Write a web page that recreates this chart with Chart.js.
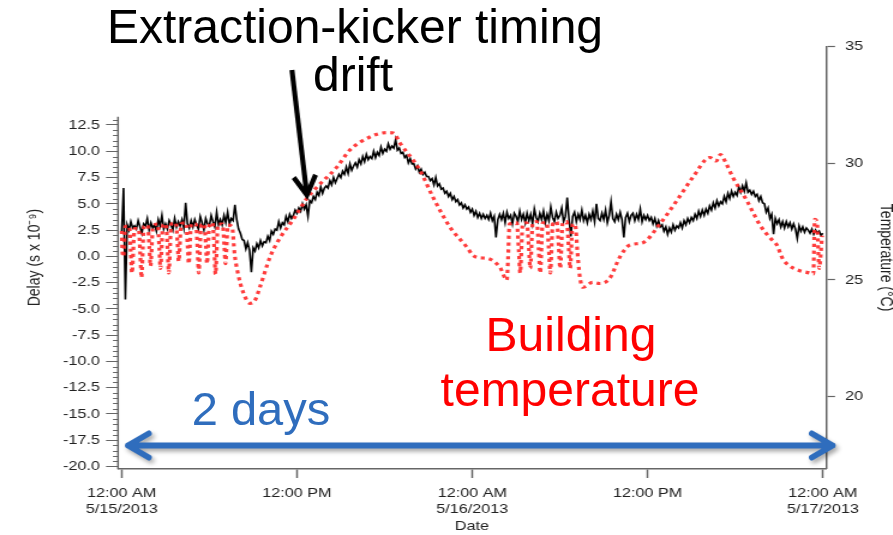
<!DOCTYPE html>
<html>
<head>
<meta charset="utf-8">
<script src="https://cdn.jsdelivr.net/npm/chart.js@4.4.1/dist/chart.umd.min.js"></script>
<style>
  html, body { margin: 0; padding: 0; background: #fff; }
  #stage { position: relative; width: 893px; height: 535px; overflow: hidden; background: #fff; }
  /* the plot is rendered narrower and widened with CSS, giving the wide tick lettering */
  #c { position: absolute; left: 0; top: 0; transform: scaleX(1.2); transform-origin: 0 0; }
  .note { position: absolute; transform: translateX(-50%); font-family: 'Liberation Sans', Arial, sans-serif;
          font-size: 48px; line-height: 48px; white-space: nowrap; }
</style>
</head>
<body>
<div id="stage">
  <canvas id="c" width="744" height="535"></canvas>
  <div class="note" style="left:355px; top:3px; color:#000;">Extraction-kicker timing</div>
  <div class="note" style="left:353px; top:51px; color:#000;">drift</div>
  <div class="note" style="left:571px; top:311px; color:#ff0000;">Building</div>
  <div class="note" style="left:570px; top:366px; color:#ff0000;">temperature</div>
  <div class="note" style="left:261px; top:385px; color:#2f6dbd; font-size:47px; line-height:47px;">2 days</div>
</div>
<script>
// ---- data -------------------------------------------------------------
// Hours since 12:00 AM 5/15/2013
const hourTicks = [0, 12, 24, 36, 48];
const hourTickLabels = [['12:00 AM', '5/15/2013'], '12:00 PM', ['12:00 AM', '5/16/2013'], '12:00 PM', ['12:00 AM', '5/17/2013']];
const delayTicks = [-20, -17.5, -15, -12.5, -10, -7.5, -5, -2.5, 0, 2.5, 5, 7.5, 10, 12.5];
const tempTicks = [20, 25, 30, 35];

// Kicker delay (ns), one sample every 7.5 minutes
const delayStartHour = 0;
const delayStepHours = 0.125;
const delayValues = [
  2.4, 6.5, -4.1, 3.0, 2.5, 3.3, 2.7, 2.9,
  2.6, 3.4, 2.8, 2.2, 3.1, 2.9, 3.6, 2.5,
  3.2, 2.7, 3.0, 2.4, 3.5, 2.9, 3.9, 2.6,
  3.1, 2.6, 3.4, 3.0, 2.5, 3.6, 2.8, 3.3,
  2.9, 3.5, 2.7, 5.1, 3.1, 2.7, 3.4, 2.8,
  3.5, 3.0, 2.6, 3.8, 3.2, 2.5, 3.6, 3.1,
  2.9, 3.9, 3.3, 2.8, 4.2, 3.0, 3.5, 3.0,
  3.9, 3.2, 4.2, 3.1, 3.6, 3.4, 4.9, 3.5,
  2.6, 2.2, 1.6, 1.5, 0.7, 1.3, 0.6, -1.5,
  0.8, 0.5, 1.2, 0.8, 1.5, 1.0, 1.4, 1.3,
  1.9, 1.5, 2.4, 2.1, 2.6, 2.5, 3.3, 2.7,
  3.2, 3.0, 3.8, 3.3, 4.0, 3.6, 3.9, 4.4,
  4.1, 4.6, 4.3, 5.0, 4.5, 4.9, 3.8, 5.3,
  5.1, 5.7, 5.4, 6.1, 5.8, 6.6, 6.0, 6.5,
  6.7, 6.5, 7.2, 6.8, 7.5, 7.0, 7.4, 7.8,
  7.5, 8.1, 7.8, 8.5, 7.9, 8.8, 8.2, 8.6,
  8.9, 8.5, 9.2, 8.8, 9.5, 9.0, 9.7, 9.2,
  9.5, 9.3, 10.0, 9.4, 9.9, 9.6, 10.4, 9.8,
  10.2, 10.0, 10.7, 10.2, 10.5, 10.3, 11.1, 10.1,
  10.3, 9.8, 9.9, 9.4, 9.6, 8.9, 9.3, 8.8,
  8.8, 8.3, 8.6, 8.0, 8.3, 7.8, 8.0, 7.6,
  7.6, 7.2, 7.4, 6.8, 7.5, 6.7, 6.9, 6.4,
  6.5, 6.0, 6.2, 5.7, 6.0, 5.4, 5.7, 5.2,
  5.4, 4.9, 5.1, 4.6, 4.9, 4.5, 4.7, 4.2,
  4.5, 3.9, 4.3, 3.7, 4.1, 3.6, 4.0, 3.6,
  3.9, 3.5, 4.1, 3.4, 3.8, 1.8, 3.5, 4.0,
  3.5, 4.1, 3.2, 4.2, 3.6, 3.9, 3.1, 4.1,
  3.8, 3.3, 4.3, 3.5, 4.0, 3.2, 4.1, 3.4,
  4.0, 3.1, 4.5, 3.7, 3.3, 4.1, 3.5, 4.3,
  3.2, 4.0, 3.4, 4.7, 3.7, 3.3, 4.2, 3.6,
  3.9, 4.6, 3.3, 3.8, 5.6, 3.5, 1.9, 3.8,
  4.2, 3.3, 4.0, 3.5, 4.4, 3.4, 3.9, 3.2,
  4.0, 3.5, 4.3, 3.3, 5.0, 3.6, 3.4, 4.1,
  3.5, 4.4, 3.2, 3.9, 5.2, 3.6, 3.3, 4.0,
  3.5, 4.2, 3.5, 1.8, 3.7, 4.1, 3.3, 3.9,
  4.1, 3.4, 4.0, 3.5, 4.5, 3.3, 3.9, 3.5,
  3.9, 3.4, 3.7, 3.1, 3.6, 2.9, 3.4, 2.8,
  3.0, 2.4, 2.8, 2.1, 2.7, 2.3, 3.0, 2.5,
  2.9, 2.7, 3.2, 2.7, 3.4, 3.0, 3.6, 3.2,
  3.7, 3.4, 4.0, 3.6, 4.3, 3.8, 4.4, 3.9,
  4.5, 4.1, 4.8, 4.4, 5.1, 4.6, 5.3, 4.8,
  5.2, 5.0, 5.7, 5.2, 6.0, 5.5, 6.2, 5.7,
  6.1, 5.8, 6.6, 6.1, 6.7, 6.2, 7.0, 6.1,
  6.3, 5.9, 6.2, 5.7, 5.9, 5.3, 5.7, 5.1,
  5.0, 4.2, 4.6, 3.6, 4.0, 2.1, 3.6, 3.1,
  3.5, 2.8, 3.3, 2.7, 3.3, 2.8, 3.2, 2.6,
  3.1, 2.6, 1.7, 2.9, 2.4, 2.8, 2.3, 2.7,
  2.5, 2.2, 2.6, 2.1, 2.5, 2.2, 2.4, 2.0,
  2.2
];

// Building temperature (°C) with the hour of each reading
const tempHours = [
  0.00, 0.05, 0.12, 0.25,
  0.52, 0.62, 0.70, 0.88,
  1.16, 1.27, 1.35, 1.52,
  1.78, 1.89, 1.97, 2.14,
  2.46, 2.57, 2.65, 2.82,
  3.03, 3.14, 3.22, 3.39,
  3.71, 3.82, 3.90, 4.07,
  4.40, 4.51, 4.59, 4.76,
  5.08, 5.19, 5.27, 5.44,
  5.65, 5.76, 5.84, 6.01,
  6.23, 6.34, 6.42, 6.59,
  6.91, 7.02, 7.10, 7.27,
  7.55, 7.73, 7.95, 8.30, 8.78, 9.10, 9.46, 10.15, 10.83, 11.72,
  12.68, 13.36, 14.73, 15.62, 16.99, 18.15, 18.60, 19.05, 20.42, 21.31,
  22.47, 23.64, 24.04, 24.50, 25.00, 25.89, 26.37,
  26.45, 26.55,
  27.05, 27.18, 27.28, 27.45,
  27.74, 27.87, 27.97, 28.14,
  28.42, 28.55, 28.65, 28.82,
  29.11, 29.24, 29.34, 29.51,
  29.79, 29.92, 30.02, 30.19,
  30.47, 30.60, 30.70, 30.87,
  31.05, 31.20, 31.35, 31.57, 32.25, 32.73, 33.41, 34.10, 34.78, 35.68,
  36.84, 38.00, 39.10, 40.27, 40.70, 41.00, 41.30, 41.84, 42.80, 43.70,
  44.40, 44.85, 45.26, 45.74, 46.42, 47.10, 47.35, 47.45, 47.60, 47.75,
  47.95
];
const tempValues = [
  27.1, 26.2, 26.0, 27.3,
  27.3, 26.2, 25.3, 27.2,
  27.2, 26.1, 25.1, 27.3,
  27.35, 26.4, 25.6, 27.3,
  27.4, 26.4, 25.5, 27.35,
  27.4, 26.3, 25.3, 27.4,
  27.45, 26.6, 25.8, 27.4,
  27.45, 26.5, 25.7, 27.4,
  27.4, 26.3, 25.3, 27.35,
  27.4, 26.5, 25.7, 27.4,
  27.45, 26.3, 25.25, 27.4,
  27.4, 26.5, 25.7, 27.35,
  27.3, 26.1, 25.3, 24.5, 24.0, 24.1, 24.69, 25.98, 26.8, 27.57,
  28.5, 28.98, 29.84, 30.57, 31.13, 31.32, 31.3, 30.87, 29.7, 28.55,
  27.27, 26.4, 26.06, 25.95, 25.93, 25.55, 25.0,
  25.9, 27.4,
  27.45, 26.3, 25.3, 27.4,
  27.45, 26.4, 25.5, 27.45,
  27.5, 26.3, 25.3, 27.45,
  27.45, 26.3, 25.3, 27.4,
  27.5, 26.4, 25.5, 27.45,
  27.5, 26.4, 25.5, 27.4,
  27.35, 26.2, 25.2, 24.69, 24.9, 24.85, 25.07, 25.98, 26.5, 26.6,
  27.4, 28.4, 29.4, 30.25, 30.1, 30.38, 30.1, 29.4, 28.4, 27.35,
  26.8, 26.5, 25.9, 25.6, 25.4, 25.3, 25.25, 27.6, 27.5, 25.5,
  26.9
];

// ---- layout & style ---------------------------------------------------
const SX = 1.2;                         // horizontal widening of the canvas
const FONT = "'Liberation Sans', Arial, sans-serif";
const TEXT = '#222';
const AXIS = '#666';
const HOUR_MIN = -0.253, HOUR_MAX = 48.219;
const DELAY_MIN = -20.19, DELAY_MAX = 19.95;
const TEMP_MIN = 16.92, TEMP_MAX = 35;
const DELAY_AXIS_TOP = 13.29;           // left spine stops here
const DELAY_MINOR_STEP = 0.5;
const POINTER = { hour: 12.68, delay: 5.83 };            // tip of the black pointer
const SPAN = { from: 0.43, to: 48.67, delay: -18.0 };    // the "2 days" double arrow

const delayPoints = delayValues.map((v, i) => ({ x: delayStartHour + i * delayStepHours, y: v }));
const tempPoints = tempHours.map((h, i) => ({ x: h, y: tempValues[i] }));

function head(ctx, tx, ty, dx, dy, len, deg) {
  const back = Math.atan2(-dy, -dx), a = deg * Math.PI / 180;
  ctx.moveTo(tx + len * Math.cos(back + a), ty + len * Math.sin(back + a));
  ctx.lineTo(tx, ty);
  ctx.lineTo(tx + len * Math.cos(back - a), ty + len * Math.sin(back - a));
}

const extras = {
  id: 'extras',
  afterDraw(chart) {
    const { ctx, chartArea: ca, scales } = chart;
    const xs = scales.x, yd = scales.yDelay;

    // left spine and its minor ticks
    ctx.save();
    ctx.strokeStyle = AXIS;
    ctx.lineWidth = 1.5;
    ctx.beginPath();
    ctx.moveTo(ca.left, yd.getPixelForValue(DELAY_AXIS_TOP));
    ctx.lineTo(ca.left, ca.bottom + 0.75);
    ctx.stroke();
    ctx.lineWidth = 1;
    ctx.beginPath();
    for (let v = delayTicks[0]; v <= DELAY_AXIS_TOP; v = +(v + DELAY_MINOR_STEP).toFixed(2)) {
      if (delayTicks.includes(v)) continue;
      const y = Math.round(yd.getPixelForValue(v)) + 0.5;
      ctx.moveTo(ca.left - 4.2, y);
      ctx.lineTo(ca.left, y);
    }
    ctx.stroke();
    ctx.restore();

    // annotation arrows, drawn in screen proportions
    ctx.save();
    ctx.scale(1 / SX, 1);
    const tipX = xs.getPixelForValue(POINTER.hour) * SX;
    const tipY = yd.getPixelForValue(POINTER.delay);
    const tailX = tipX - 15, tailY = tipY - 125;
    ctx.strokeStyle = '#000';
    ctx.lineWidth = 5;
    ctx.lineCap = 'butt';
    ctx.lineJoin = 'miter';
    ctx.beginPath();
    ctx.moveTo(tailX, tailY);
    ctx.lineTo(tipX - 0.4, tipY - 3);
    ctx.stroke();
    ctx.beginPath();
    head(ctx, tipX, tipY, tipX - tailX, tipY - tailY, 22, 30);
    ctx.stroke();

    const y = yd.getPixelForValue(SPAN.delay);
    const x1 = xs.getPixelForValue(SPAN.from) * SX;
    const x2 = xs.getPixelForValue(SPAN.to) * SX;
    ctx.strokeStyle = '#2f6dbd';
    ctx.lineWidth = 6;
    ctx.lineCap = 'round';
    ctx.lineJoin = 'round';
    ctx.shadowColor = 'rgba(0,0,0,0.35)';
    ctx.shadowBlur = 4;
    ctx.shadowOffsetX = 2;
    ctx.shadowOffsetY = 3;
    ctx.beginPath();
    ctx.moveTo(x1, y);
    ctx.lineTo(x2, y);
    head(ctx, x1, y, -1, 0, 24, 30);
    head(ctx, x2, y, 1, 0, 24, 30);
    ctx.stroke();
    ctx.restore();
  }
};

new Chart(document.getElementById('c'), {
  type: 'line',
  data: {
    datasets: [
      { label: 'Delay', data: delayPoints, yAxisID: 'yDelay', borderColor: '#000', borderWidth: 1.6,
        pointRadius: 0, tension: 0, order: 1 },
      { label: 'Temperature', data: tempPoints, yAxisID: 'yTemp', borderColor: 'rgba(255,40,40,0.9)',
        borderWidth: 3.2, borderDash: [3.2, 3.6], pointRadius: 0, cubicInterpolationMode: 'monotone', order: 0 }
    ]
  },
  options: {
    responsive: false,
    devicePixelRatio: 1,
    animation: false,
    events: [],
    layout: { padding: { top: 46.7, left: 0, right: 0, bottom: 0 } },
    plugins: { legend: { display: false }, tooltip: { enabled: false }, title: { display: false } },
    scales: {
      x: {
        type: 'linear', position: 'bottom', bounds: 'data', min: HOUR_MIN, max: HOUR_MAX,
        afterBuildTicks: s => { s.ticks = hourTicks.map(v => ({ value: v })); },
        afterFit: s => { s.height = 535 - 468.5; },
        ticks: { autoSkip: false, maxRotation: 0, minRotation: 0, padding: 7, color: TEXT,
                 font: { family: FONT, size: 13.5 },
                 callback: v => hourTickLabels[hourTicks.indexOf(v)] },
        grid: { drawOnChartArea: false, drawTicks: true, tickLength: 9.5, tickColor: AXIS, tickWidth: 1.5 },
        border: { display: true, color: AXIS, width: 1.5 },
        title: { display: true, text: 'Date', color: TEXT, font: { family: FONT, size: 13.5 },
                 padding: { top: 0, bottom: 0.5 } }
      },
      yDelay: {
        type: 'linear', position: 'left', bounds: 'data', min: DELAY_MIN, max: DELAY_MAX,
        afterBuildTicks: s => { s.ticks = delayTicks.map(v => ({ value: v })); },
        afterFit: s => { s.width = 118 / SX; },
        ticks: { padding: 5, color: TEXT, font: { family: FONT, size: 13.5 }, callback: v => v.toFixed(1) },
        grid: { drawOnChartArea: false, drawTicks: true, tickLength: 10, tickColor: AXIS, tickWidth: 1 },
        border: { display: false },
        title: { display: true, text: 'Delay (s x 10\u207B\u2079)', color: TEXT, font: { family: FONT, size: 14 },
                 padding: { top: 20.8, bottom: 0 } }
      },
      yTemp: {
        type: 'linear', position: 'right', bounds: 'data', min: TEMP_MIN, max: TEMP_MAX,
        afterBuildTicks: s => { s.ticks = tempTicks.map(v => ({ value: v })); },
        afterFit: s => { s.width = 744 - 826 / SX; },
        ticks: { padding: 8.3, color: TEXT, font: { family: FONT, size: 13.5 }, callback: v => String(v) },
        grid: { drawOnChartArea: false, drawTicks: true, tickLength: 7.5, tickColor: AXIS, tickWidth: 1.2 },
        border: { display: true, color: AXIS, width: 1.5 },
        title: { display: true, text: 'Temperature (\u00B0C)', color: TEXT, font: { family: FONT, size: 14 },
                 padding: { top: -2.5, bottom: 0 } }
      }
    }
  },
  plugins: [extras]
});
</script>
</body>
</html>
